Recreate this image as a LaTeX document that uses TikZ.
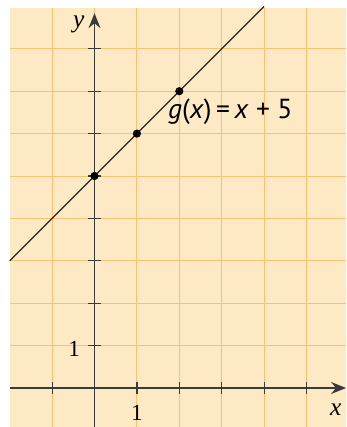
\documentclass[tikz,border=0pt]{standalone}
\usepackage{fontspec}
\setmainfont{Liberation Serif}
\newfontfamily\labelfont{PT Sans}
\usetikzlibrary{arrows.meta}
\definecolor{paper}{HTML}{FEE9C5}
\definecolor{gridc}{HTML}{F7C370}
\definecolor{axisc}{HTML}{3A3A3A}
\tikzset{
  gridline/.style={draw=gridc, line width=0.6pt},
  axisline/.style={draw=axisc, line width=1.1pt, -{Stealth[length=10pt,width=8pt]}},
  tickmark/.style={draw=axisc, line width=0.8pt},
  graphline/.style={draw=black!85, line width=0.8pt},
  dotmark/.style={circle, fill=black, inner sep=0pt, minimum size=5.5pt},
  axislabel/.style={font=\fontsize{17}{19}\selectfont\itshape, inner sep=0pt},
  numlabel/.style={font=\fontsize{15.5}{18}\selectfont, inner sep=0pt},
  funclabel/.style={font=\labelfont\fontsize{18.5}{21}\selectfont, inner sep=0pt}
}
\begin{document}
\begin{tikzpicture}
\useasboundingbox (-2.229,-0.92) rectangle (5.932,9.151);
\fill[paper] (-1.993,-0.92) rectangle (5.932,8.97);
% grid
\foreach \x in {-1,0,...,5} \draw[gridline] (\x,-0.92) -- (\x,8.97);
\foreach \y in {1,...,8} \draw[gridline] (-1.993,\y) -- (5.932,\y);
% axes
\coordinate (xs) at (-1.993,0);
\coordinate (xe) at (5.932,0);
\coordinate (ys) at (0,-0.92);
\coordinate (ye) at (0,8.84);
\draw[axisline] (xs) -- (xe);
\draw[axisline] (ys) -- (ye);
% ticks
\foreach \x in {-1,1,2,3,4,5} \draw[tickmark] (\x,-0.13) -- (\x,0.13);
\foreach \y in {1,...,8} \draw[tickmark] (-0.16,\y) -- (0.16,\y);
% graph
\coordinate (ls) at (-2,3);
\coordinate (le) at (4,9);
\draw[graphline] (ls) -- (le);
\node[dotmark] (p0) at (0,5) {};
\node[dotmark] (p1) at (1,6) {};
\node[dotmark] (p2) at (2,7) {};
% labels
\node[axislabel] (ylab) at (-0.37,8.58) {y};
\node[axislabel] (xlab) at (5.69,-0.52) {x};
\node[numlabel] (one_y) at (-0.48,0.92) {1};
\node[numlabel] (one_x) at (1.0,-0.58) {1};
\node[funclabel, anchor=base west] (flab) at (1.73,6.35) {\textit{g}(\textit{x})\,=\,\textit{x} + 5};
\end{tikzpicture}
\end{document}
